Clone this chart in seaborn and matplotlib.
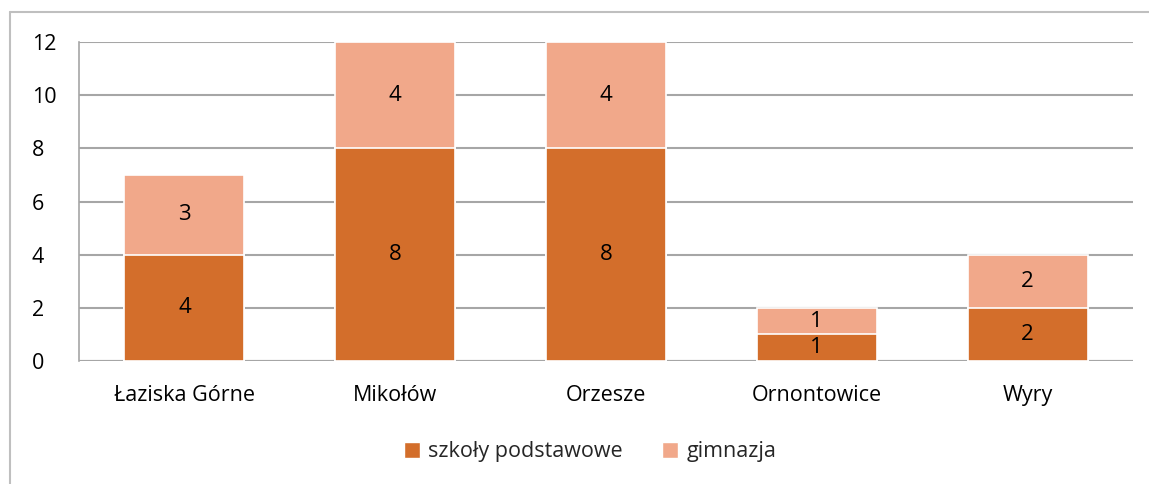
import matplotlib
matplotlib.use("Agg")
import matplotlib.pyplot as plt
import seaborn as sns
import pandas as pd
from matplotlib.lines import Line2D
from matplotlib.patches import Patch

gminy = ["Łaziska Górne", "Mikołów", "Orzesze", "Ornontowice", "Wyry"]
podstawowe = [4, 8, 8, 1, 2]
gimnazja = [3, 4, 4, 1, 2]

dark = "#D36E2B"
light = "#F1A88A"
grid_col = "#A6A6A6"

sns.set_style("white")
plt.rcParams['font.family'] = ['Open Sans', 'DejaVu Sans']
fs = 15.5

df = pd.DataFrame({"gmina": gminy, "podst": podstawowe, "gimn": gimnazja})
df["total"] = df["podst"] + df["gimn"]

fig = plt.figure(figsize=(11.49, 4.84), dpi=100)
ax = fig.add_axes([79 / 1149, 1 - 361 / 484, (1133 - 79) / 1149, (361 - 42) / 484])

sns.barplot(data=df, x="gmina", y="total", color=light, width=0.57,
            edgecolor="white", linewidth=1.2, saturation=1, ax=ax, zorder=3)
sns.barplot(data=df, x="gmina", y="podst", color=dark, width=0.57,
            edgecolor="white", linewidth=1.2, saturation=1, ax=ax, zorder=3)

# value labels in the middle of each segment
for i, row in df.iterrows():
    ax.text(i, row["podst"] / 2, str(row["podst"]), ha="center", va="center",
            fontsize=fs + 0.5, color="black", zorder=4)
    ax.text(i, row["podst"] + row["gimn"] / 2, str(row["gimn"]), ha="center",
            va="center", fontsize=fs + 0.5, color="black", zorder=4)

ax.set_ylim(0, 12)
ax.set_yticks(range(0, 13, 2))
ax.set_xlim(-0.5, len(gminy) - 0.5)
ax.yaxis.grid(True, color=grid_col, linewidth=1.5)
ax.set_axisbelow(True)
for s in ["top", "right", "bottom"]:
    ax.spines[s].set_visible(False)
ax.spines["left"].set_color(grid_col)
ax.spines["left"].set_linewidth(1.2)
ax.axhline(0, color=grid_col, linewidth=1.5, zorder=2)
ax.set_xlabel("")
ax.set_ylabel("")
ax.tick_params(axis="both", length=0, labelsize=fs, colors="black")
ax.tick_params(axis="y", pad=34)
ax.tick_params(axis="x", pad=17)
for lbl in ax.get_yticklabels():
    lbl.set_horizontalalignment("left")

handles = [Patch(facecolor=dark, label="szkoły podstawowe"),
           Patch(facecolor=light, label="gimnazja")]
fig.legend(handles=handles, loc="center", bbox_to_anchor=(590 / 1149, 1 - 452 / 484),
           ncol=2, frameon=False, fontsize=fs, handlelength=0.75, handleheight=0.75,
           handletextpad=0.4, columnspacing=1.8)

# chart frame (left and top edges visible in the crop)
fig.add_artist(Line2D([10 / 1149, 10 / 1149], [0, 1 - 12 / 484],
                      transform=fig.transFigure, color="#BFBFBF", linewidth=1.5))
fig.add_artist(Line2D([10 / 1149, 1], [1 - 12 / 484, 1 - 12 / 484],
                      transform=fig.transFigure, color="#BFBFBF", linewidth=1.5))

fig.savefig("out.png", dpi=100)
